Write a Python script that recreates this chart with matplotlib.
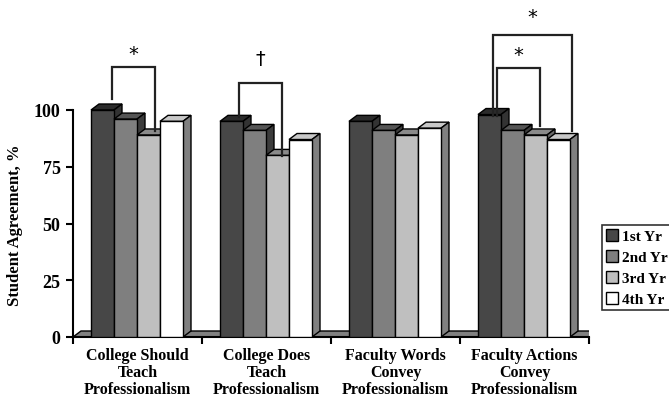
import numpy as np
from matplotlib import pyplot as plt
from matplotlib.patches import Polygon

categories = ["College Should\nTeach\nProfessionalism",
              "College Does\nTeach\nProfessionalism",
              "Faculty Words\nConvey\nProfessionalism",
              "Faculty Actions\nConvey\nProfessionalism"]
series = ["1st Yr", "2nd Yr", "3rd Yr", "4th Yr"]
yr1 = [100, 95, 95, 98]
yr2 = [96, 91, 91, 91]
yr3 = [89, 80, 89, 89]
yr4 = [95, 87, 92, 87]
values = [yr1, yr2, yr3, yr4]
yticks = [0, 25, 50, 75, 100]

front = ["#474747", "#7f7f7f", "#bfbfbf", "#ffffff"]
top = ["#2b2b2b", "#555555", "#8a8a8a", "#c8c8c8"]
side = ["#333333", "#3c3c3c", "#6a6a6a", "#808080"]

plt.rcParams['font.family'] = ['Liberation Serif', 'DejaVu Serif']
plt.rcParams['font.weight'] = 'bold'

fig = plt.figure(figsize=(6.69, 4.02), dpi=100)
ax = fig.add_axes([73 / 669, 64 / 402, 516 / 669, 338 / 402])
px_y = 2.27  # pixels per % unit
ax.set_xlim(0, 4)
ax.set_ylim(0, 338 / px_y)

dx = 8 / 129
dy = 6 / px_y
bw = 23 / 129
off = 18 / 129

# floor
ax.add_patch(Polygon([(0, 0), (4, 0), (4 + dx, dy), (dx, dy)], closed=True,
                     facecolor="#808080", edgecolor="black", lw=1, zorder=1))

for i in range(4):
    for j in range(4):
        x0 = i + off + j * bw
        h = values[j][i]
        ax.add_patch(Polygon([(x0, 0), (x0 + bw, 0), (x0 + bw, h), (x0, h)],
                             facecolor=front[j], edgecolor="black", lw=1, zorder=3 + j))
        ax.add_patch(Polygon([(x0, h), (x0 + bw, h), (x0 + bw + dx, h + dy), (x0 + dx, h + dy)],
                             facecolor=top[j], edgecolor="black", lw=1, zorder=2 + j))
        ax.add_patch(Polygon([(x0 + bw, 0), (x0 + bw + dx, dy), (x0 + bw + dx, h + dy), (x0 + bw, h)],
                             facecolor=side[j], edgecolor="black", lw=1, zorder=2 + j))


def bracket(x1, x2, ytop, y1, y2, mark, ymark):
    xa = (x1 - 73) / 129
    xb = (x2 - 73) / 129
    ax.plot([xa, xa, xb, xb],
            [(338 - y1) / px_y, (338 - ytop) / px_y, (338 - ytop) / px_y, (338 - y2) / px_y],
            color="#222222", lw=1.6, zorder=10, solid_joinstyle='miter')
    ax.text((xa + xb) / 2, (338 - ymark) / px_y, mark, ha="center", va="center",
            fontsize=14, fontfamily="DejaVu Sans", fontweight="normal", zorder=10)


bracket(112, 155, 68, 100, 132, "*", 55)
bracket(239, 282, 84, 118, 157, "\u2020", 60)
bracket(493, 572, 36, 117, 132, "*", 18)
bracket(497, 540, 69, 117, 127, "*", 56)

ax.spines['top'].set_visible(False)
ax.spines['right'].set_visible(False)
ax.spines['left'].set_bounds(0, 100)
ax.spines['left'].set_linewidth(1.5)
ax.spines['bottom'].set_linewidth(1.5)
ax.set_yticks(yticks)
ax.set_yticklabels([str(t) for t in yticks], fontsize=13, fontweight='bold')
ax.set_xticks([0, 1, 2, 3, 4])
ax.set_xticklabels([])
ax.set_xticks([0.5, 1.5, 2.5, 3.5], minor=True)
ax.set_xticklabels(categories, minor=True, fontsize=11.5, fontweight='bold',
                   linespacing=1.1)
ax.tick_params(axis='x', which='minor', length=0, pad=7)
ax.tick_params(axis='x', which='major', length=5, width=1.5, direction='out')
ax.tick_params(axis='y', length=5, width=1.5, pad=4)
ax.set_ylabel("Student Agreement, %", fontsize=12, fontweight='bold')
ax.yaxis.set_label_coords(-50 / 516, (338 - 225) / 338)

handles = [Polygon([(0, 0)], facecolor=front[j], edgecolor="black") for j in range(4)]
leg = fig.legend(handles, series, loc="upper left", bbox_to_anchor=(602 / 669, 1 - 226 / 402),
                 prop={'size': 11, 'weight': 'bold'}, frameon=True, fancybox=False,
                 edgecolor="black", handlelength=0.8, handleheight=0.8, handletextpad=0.25,
                 borderpad=0.25, labelspacing=0.45, borderaxespad=0)
leg.get_frame().set_linewidth(1.2)

fig.savefig("out.png", dpi=100)
